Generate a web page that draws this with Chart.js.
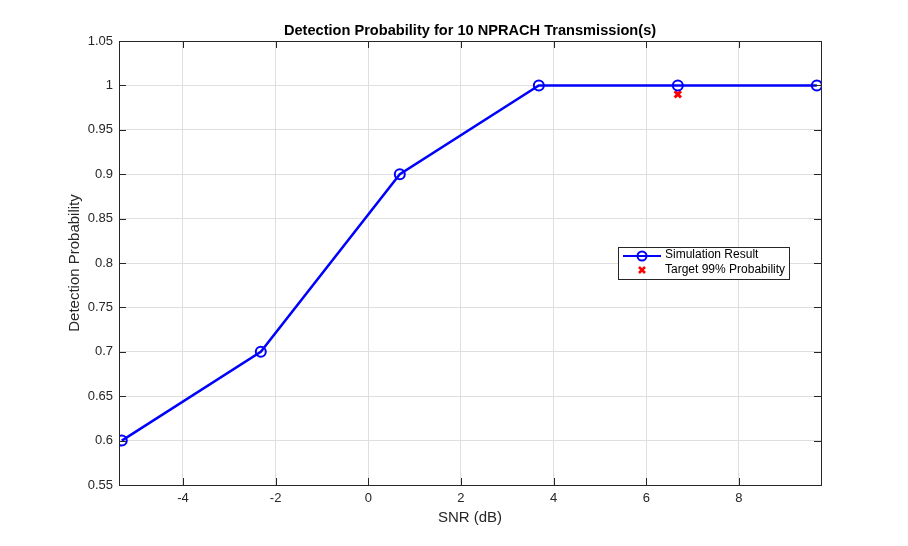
<!DOCTYPE html>
<html>
<head>
<meta charset="utf-8">
<script src="https://cdn.jsdelivr.net/npm/chart.js@4/dist/chart.umd.min.js"></script>
<style>
  html, body { margin: 0; padding: 0; background: #fff; }
  #wrap { width: 908px; height: 546px; }
</style>
</head>
<body>
<div id="wrap"><canvas id="c" width="908" height="546"></canvas></div>
<script>
// donnees
const snrValues = [-5.32, -2.32, 0.68, 3.68, 6.68, 9.68];
const detectProb = [0.6, 0.7, 0.9, 1, 1, 1];
const targetSnr = [6.68];
const targetProb = [0.99];
const xTicks = [-4, -2, 0, 2, 4, 6, 8];
const yTicks = [0.55, 0.6, 0.65, 0.7, 0.75, 0.8, 0.85, 0.9, 0.95, 1, 1.05];

const FONT = 'Liberation Sans, Arial, Helvetica, sans-serif';

// boite, ticks vers l'interieur, titre et legende facon MATLAB
const matlabAxes = {
    id: 'matlabAxes',
    afterDraw(chart) {
        const ctx = chart.ctx;
        const a = chart.chartArea;
        const xs = chart.scales.x, ys = chart.scales.y;
        ctx.save();
        ctx.strokeStyle = '#262626';
        ctx.lineWidth = 1;
        ctx.beginPath();
        xTicks.forEach(v => {
            const px = Math.round(xs.getPixelForValue(v)) + 0.5;
            ctx.moveTo(px, a.bottom); ctx.lineTo(px, a.bottom - 7);
            ctx.moveTo(px, a.top); ctx.lineTo(px, a.top + 7);
        });
        yTicks.forEach(v => {
            const py = Math.round(ys.getPixelForValue(v)) + 0.5;
            ctx.moveTo(a.left, py); ctx.lineTo(a.left + 7, py);
            ctx.moveTo(a.right, py); ctx.lineTo(a.right - 7, py);
        });
        ctx.stroke();
        ctx.strokeRect(Math.round(a.left) + 0.5, Math.round(a.top) + 0.5,
            Math.round(a.right - a.left), Math.round(a.bottom - a.top));

        // titre
        ctx.fillStyle = '#000';
        ctx.font = 'bold 14.6px ' + FONT;
        ctx.textAlign = 'center';
        ctx.textBaseline = 'middle';
        ctx.fillText('Detection Probability for 10 NPRACH Transmission(s)', (a.left + a.right) / 2, 30.5);

        // legende
        const lx = 618, ly = 247, lw = 171, lh = 32;
        ctx.fillStyle = '#fff';
        ctx.fillRect(lx, ly, lw, lh);
        ctx.strokeStyle = '#262626';
        ctx.strokeRect(lx + 0.5, ly + 0.5, lw, lh);
        ctx.strokeStyle = '#0000ff';
        ctx.lineWidth = 2;
        ctx.beginPath();
        ctx.moveTo(623, 256); ctx.lineTo(661, 256);
        ctx.stroke();
        ctx.beginPath();
        ctx.arc(642, 256, 4.5, 0, Math.PI * 2);
        ctx.stroke();
        ctx.strokeStyle = '#ff0000';
        ctx.lineWidth = 2.5;
        ctx.beginPath();
        ctx.moveTo(639, 267); ctx.lineTo(645, 273);
        ctx.moveTo(645, 267); ctx.lineTo(639, 273);
        ctx.stroke();
        ctx.fillStyle = '#000';
        ctx.font = '12px ' + FONT;
        ctx.textAlign = 'left';
        ctx.fillText('Simulation Result', 665, 255);
        ctx.fillText('Target 99% Probability', 665, 270);
        ctx.restore();
    }
};

const ctx = document.getElementById('c').getContext('2d');
new Chart(ctx, {
    type: 'scatter',
    data: {
        datasets: [{
            label: 'Simulation Result',
            data: snrValues.map((x, i) => ({ x: x, y: detectProb[i] })),
            showLine: true,
            borderColor: '#0000ff',
            borderWidth: 2.5,
            pointStyle: 'circle',
            pointRadius: 5,
            pointBorderWidth: 2,
            pointBorderColor: '#0000ff',
            pointBackgroundColor: 'rgba(0,0,0,0)'
        }, {
            label: 'Target 99% Probability',
            data: targetSnr.map((x, i) => ({ x: x, y: targetProb[i] })),
            showLine: false,
            pointStyle: 'crossRot',
            pointRadius: 4.5,
            pointBorderWidth: 3,
            pointBorderColor: '#ff0000',
            borderColor: '#ff0000'
        }]
    },
    options: {
        responsive: false,
        animation: false,
        layout: { padding: { top: 41, right: 87, bottom: 0, left: 0 } },
        plugins: {
            legend: { display: false },
            tooltip: { enabled: false }
        },
        scales: {
            x: {
                type: 'linear',
                min: -5.38,
                max: 9.77,
                afterBuildTicks: s => { s.ticks = xTicks.map(v => ({ value: v })); },
                afterFit: s => { s.height = 61; },
                grid: { color: '#dfdfdf', drawTicks: false },
                border: { display: false },
                ticks: {
                    padding: 6,
                    color: '#262626',
                    font: { family: FONT, size: 13 },
                    callback: v => String(v)
                },
                title: {
                    display: true,
                    text: 'SNR (dB)',
                    color: '#262626',
                    font: { family: FONT, size: 15 },
                    padding: { top: 0, bottom: 19 }
                }
            },
            y: {
                type: 'linear',
                min: 0.55,
                max: 1.05,
                afterBuildTicks: s => { s.ticks = yTicks.map(v => ({ value: v })); },
                afterFit: s => { s.width = 119; },
                grid: { color: '#dfdfdf', drawTicks: false },
                border: { display: false },
                ticks: {
                    padding: 6,
                    color: '#262626',
                    font: { family: FONT, size: 13 },
                    callback: v => String(parseFloat(v.toFixed(2)))
                },
                title: {
                    display: true,
                    text: 'Detection Probability',
                    color: '#262626',
                    font: { family: FONT, size: 15 },
                    padding: { top: 66, bottom: 0 }
                }
            }
        }
    },
    plugins: [matlabAxes]
});
</script>
</body>
</html>
